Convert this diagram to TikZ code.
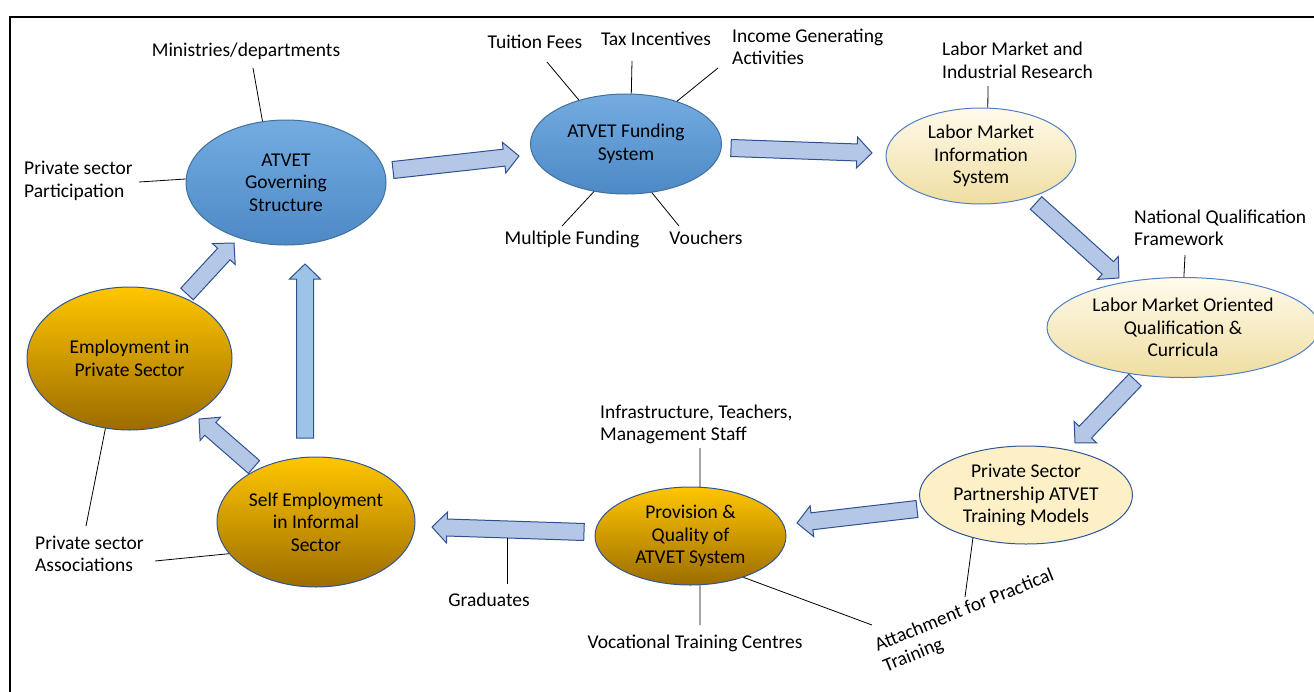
\documentclass[tikz,border=0pt]{standalone}
\usepackage{fontspec}
\setmainfont{Carlito}
\usetikzlibrary{shapes.geometric,calc}
\definecolor{blueTop}{HTML}{74ACE1}
\definecolor{blueBot}{HTML}{4D89C6}
\definecolor{blueEdge}{HTML}{41719C}
\definecolor{creamTop}{HTML}{FFFBEC}
\definecolor{creamBot}{HTML}{EFDDA0}
\definecolor{creamEdge}{HTML}{4F7FC6}
\definecolor{pspFill}{HTML}{FDF0C6}
\definecolor{goldTop}{HTML}{FFC600}
\definecolor{goldBot}{HTML}{9C6C00}
\definecolor{goldEdge}{HTML}{2F5597}
\definecolor{afill}{HTML}{B4C7E7}
\definecolor{afilltwo}{HTML}{9DC3E6}
\definecolor{aline}{HTML}{2F528F}
\newcommand\blockarrow[3][afill]{%
  \path let \p1=(#2), \p2=(#3) in
    \pgfextra{%
      \pgfmathsetmacro\baang{atan2(\y2-\y1,\x2-\x1)}%
      \pgfmathsetmacro\balen{veclen(\x2-\x1,\y2-\y1)}%
      \xdef\baang{\baang}\xdef\balen{\balen}%
      \xdef\bax{\x1}\xdef\bay{\y1}};
  \begin{scope}[shift={(\bax,\bay)}, rotate=\baang]
    \draw[barrow, fill=#1] (0pt,-8.5pt) -- ({\balen pt-15pt},-8.5pt) -- ({\balen pt-15pt},-15.5pt)
      -- (\balen pt,0pt) -- ({\balen pt-15pt},15.5pt) -- ({\balen pt-15pt},8.5pt) -- (0pt,8.5pt) -- cycle;
  \end{scope}}
\begin{document}
\begin{tikzpicture}[x=1pt,y=-1pt,
  every node/.style={font=\fontsize{19.5}{22.5}\selectfont},
  ell/.style={ellipse, inner sep=0pt, align=center, line width=1pt},
  blueell/.style={ell, draw=blueEdge, top color=blueTop, bottom color=blueBot},
  creamell/.style={ell, draw=creamEdge, top color=creamTop, bottom color=creamBot},
  pspell/.style={ell, draw=goldEdge, fill=pspFill},
  goldell/.style={ell, draw=goldEdge, top color=goldTop, bottom color=goldBot},
  lbl/.style={inner sep=0pt, align=left},
  cline/.style={line width=0.8pt, black},
  barrow/.style={draw=aline, line width=1pt, line join=miter}]
\useasboundingbox (0,0) rectangle (1314,691);
% frame
\draw[line width=2.6pt, line cap=rect] (10,691) -- (10,17) -- (1314,17);

% ellipses
\node[blueell, minimum width=200pt, minimum height=125pt] (gov) at (286,182.5) {ATVET\\Governing\\Structure};
\node[blueell, minimum width=191pt, minimum height=100pt] (fund) at (626,144) {ATVET Funding\\System};
\node[creamell, minimum width=190pt, minimum height=96pt] (lmis) at (981,156) {Labor Market\\Information\\System};
\node[creamell, minimum width=272pt, minimum height=100pt] (lmoq) at (1183,327.5) {Labor Market Oriented\\Qualification \&\\Curricula};
\node[pspell, minimum width=213pt, minimum height=98pt] (psp) at (1026,495) {Private Sector\\Partnership ATVET\\Training Models};
\node[goldell, minimum width=191pt, minimum height=98pt] (prov) at (690.5,536) {Provision \&\\Quality of\\ATVET System};
\node[goldell, minimum width=198pt, minimum height=130pt] (self) at (316,522) {Self Employment\\in Informal\\Sector};
\node[goldell, minimum width=205pt, minimum height=143pt] (emp) at (129.5,358.5) {Employment in\\Private Sector};

% labels
\node[lbl] (minis) at (246,51) {Ministries/departments};
\node[lbl, anchor=west] (pspart) at (24,181) {Private sector\\Participation};
\node[lbl] (tuition) at (535,42) {Tuition Fees};
\node[lbl] (tax) at (656,39) {Tax Incentives};
\node[lbl, anchor=west] (income) at (732,47) {Income Generating\\Activities};
\node[lbl] (multi) at (572,239) {Multiple Funding};
\node[lbl] (vouch) at (706,238) {Vouchers};
\node[lbl, anchor=west] (lmres) at (942,60.5) {Labor Market and\\Industrial Research};
\node[lbl, anchor=west] (nqf) at (1134,228) {National Qualification\\Framework};
\node[lbl, anchor=west] (infra) at (600,424.5) {Infrastructure, Teachers,\\Management Staff};
\node[lbl] (grad) at (489,600) {Graduates};
\node[lbl] (vtc) at (695,643) {Vocational Training Centres};
\node[lbl, anchor=west, rotate=22] (attach) at (880,657) {Attachment for Practical\\Training};
\node[lbl, anchor=west] (assoc) at (35,554) {Private sector\\Associations};

% connector end coordinates
\coordinate (cminis) at (253,68);
\coordinate (cpspart) at (139,182);
\coordinate (ctuition) at (547,62);
\coordinate (ctax) at (632,61);
\coordinate (cincome) at (718,68);
\coordinate (cmulti) at (562,226);
\coordinate (cvouch) at (679,226);
\coordinate (clmres) at (988,86);
\coordinate (cnqf) at (1185,255);
\coordinate (cinfra) at (700,448);
\coordinate (cgrad) at (507,584);
\coordinate (cgradarrow) at (507,538);
\coordinate (cvtc) at (700,625);
\coordinate (cattach) at (872,625);
\coordinate (cattach2) at (965,597);
\coordinate (cassoc1) at (86,526);
\coordinate (cassoc2) at (155,561);

\draw[cline] (cminis) -- (gov.111);
\draw[cline] (cpspart) -- (gov.178.5);
\draw[cline] (ctuition) -- (fund.137);
\draw[cline] (ctax) -- (fund.84);
\draw[cline] (cincome) -- (fund.40);
\draw[cline] (cmulti) -- (fund.236);
\draw[cline] (cvouch) -- (fund.298);
\draw[cline] (clmres) -- (lmis.82);
\draw[cline] (cnqf) -- (lmoq.89);
\draw[cline] (cinfra) -- (prov.79);
\draw[cline] (cvtc) -- (prov.281);
\draw[cline] (cattach) -- (prov.322);
\draw[cline] (cattach2) -- (psp.219);
\draw[cline] (cgrad) -- (cgradarrow);
\draw[cline] (cassoc1) -- (emp.251);
\draw[cline] (cassoc2) -- (self.200);

% block arrows
\coordinate (a1s) at (393,170); \coordinate (a1e) at (519,156);
\coordinate (a2s) at (731,148); \coordinate (a2e) at (872,153);
\coordinate (a3s) at (1036,203); \coordinate (a3e) at (1119,278);
\coordinate (a4s) at (1135,380); \coordinate (a4e) at (1075,443);
\coordinate (a5s) at (917,509); \coordinate (a5e) at (797,523);
\coordinate (a6s) at (584,532); \coordinate (a6e) at (432,527);
\coordinate (a7s) at (254,467); \coordinate (a7e) at (199,419);
\coordinate (a8s) at (305,438); \coordinate (a8e) at (305,264);
\coordinate (a9s) at (187,294); \coordinate (a9e) at (234,243);
\blockarrow{a1s}{a1e}
\blockarrow{a2s}{a2e}
\blockarrow{a3s}{a3e}
\blockarrow{a4s}{a4e}
\blockarrow{a5s}{a5e}
\blockarrow{a6s}{a6e}
\blockarrow{a7s}{a7e}
\blockarrow[afilltwo]{a8s}{a8e}
\blockarrow{a9s}{a9e}
\draw[cline] (cgrad) -- (cgradarrow);
\end{tikzpicture}
\end{document}
